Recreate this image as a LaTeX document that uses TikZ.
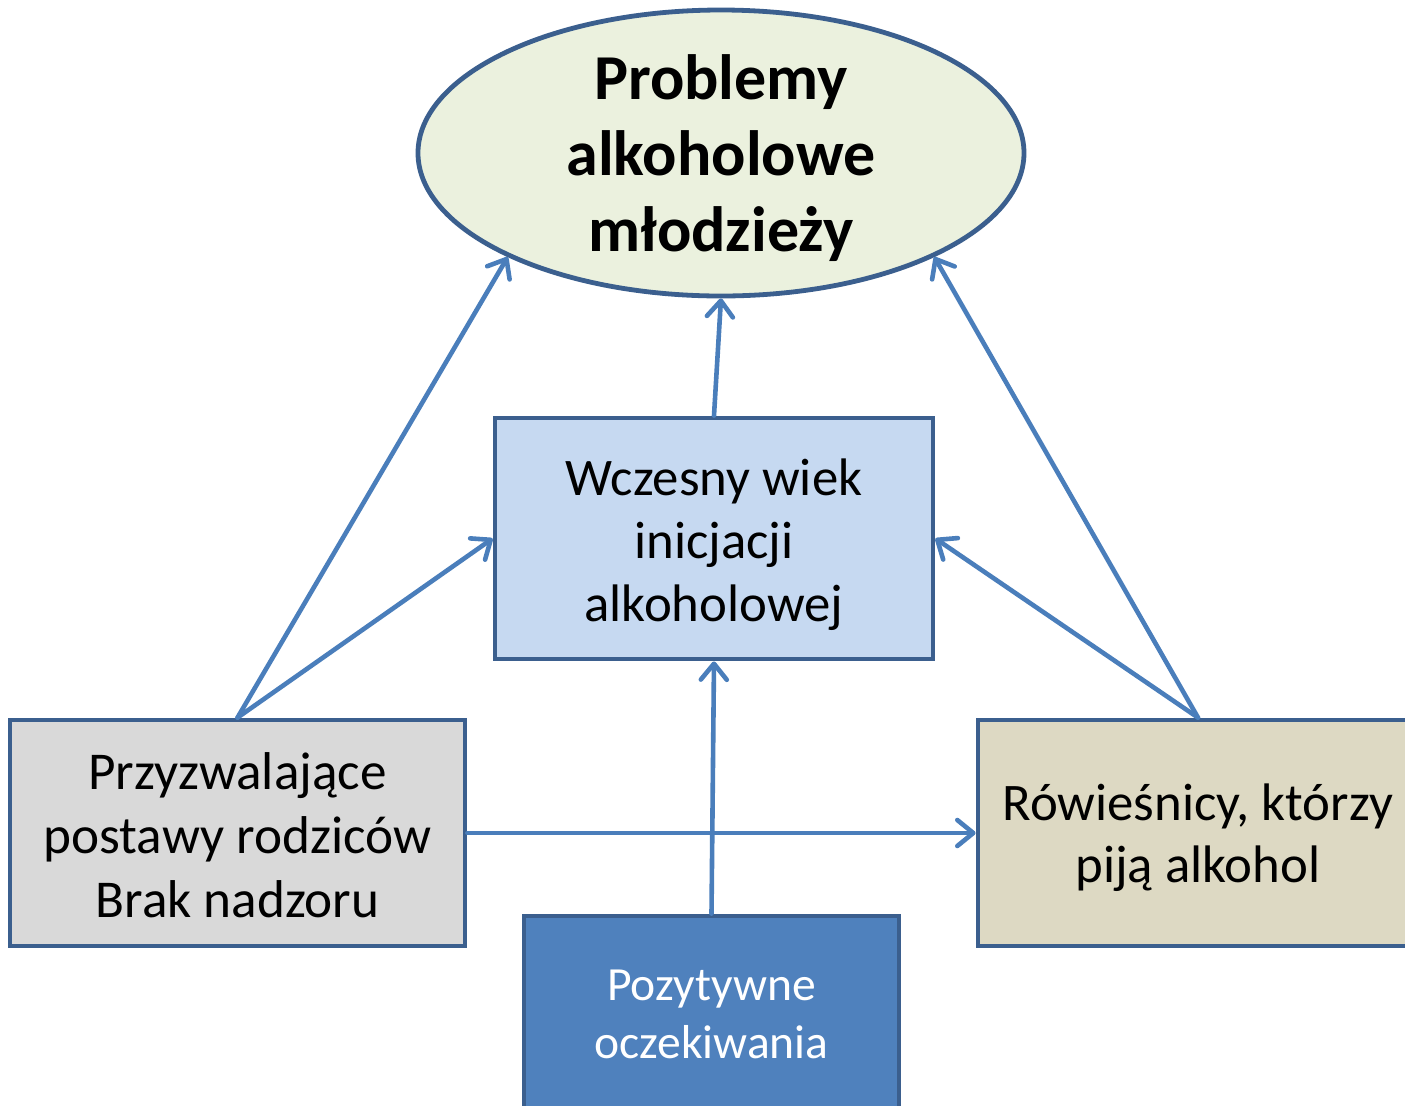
\documentclass[tikz,border=0pt]{standalone}
\usepackage{fontspec}
\setmainfont{Carlito}
\usetikzlibrary{shapes.geometric,arrows.meta}
\definecolor{bordc}{HTML}{3B5F8E}
\definecolor{arrc}{HTML}{4A7EBB}
\definecolor{ellfill}{HTML}{EBF1DE}
\definecolor{midfill}{HTML}{C6D9F1}
\definecolor{leftfill}{HTML}{D9D9D9}
\definecolor{rightfill}{HTML}{DDD9C3}
\definecolor{botfill}{HTML}{4F81BD}
\tikzset{
  box/.style={draw=bordc, line width=2.4pt, rectangle, inner sep=0pt},
  txt/.style={inner sep=0pt, align=center, text=black},
  conn/.style={draw=arrc, line width=2.3pt, line cap=round, -{Straight Barb[length=8pt,width=13pt,round]}},
}
\begin{document}
\begin{tikzpicture}[x=0.5pt,y=-0.5pt]
\useasboundingbox (0,0) rectangle (1405,1105);
\begin{scope}
\clip (0,0) rectangle (1405,1105);
\node[ellipse, draw=bordc, line width=2.4pt, fill=ellfill, minimum width=303pt, minimum height=143pt, inner sep=0pt,
  label={[txt, name=ellt, yshift=-2.5pt, font=\fontsize{32pt}{38pt}\selectfont\bfseries]center:Problemy\\alkoholowe\\młodzieży}] (ell) at (721,153) {};
\node[box, fill=midfill, minimum width=219pt, minimum height=120.5pt,
  label={[txt, name=midt, yshift=-3pt, font=\fontsize{26.4pt}{31.5pt}\selectfont]center:Wczesny wiek\\inicjacji\\alkoholowej}] (mid) at (714,538.5) {};
\node[box, fill=leftfill, minimum width=227.5pt, minimum height=113pt,
  label={[txt, name=leftt, yshift=-1pt, font=\fontsize{26.6pt}{32pt}\selectfont]center:Przyzwalające\\postawy rodziców\\Brak nadzoru}] (left) at (237.5,833) {};
\node[box, fill=rightfill, minimum width=220pt, minimum height=113pt,
  label={[txt, name=rightt, yshift=-2.5pt, font=\fontsize{26.4pt}{31pt}\selectfont]center:Rówieśnicy, którzy\\piją alkohol}] (right) at (1198,833) {};
\node[box, fill=botfill, minimum width=187.5pt, minimum height=98pt,
  label={[txt, name=bott, text=white, font=\fontsize{23.8pt}{29pt}\selectfont]center:Pozytywne\\oczekiwania}] (bot) at (711.5,1014) {};
\end{scope}
\draw[conn] (left.north) -- (ell.206);
\draw[conn] (left.north) -- (mid.west);
\draw[conn] (right.north) -- (ell.334);
\draw[conn] (right.north) -- (mid.east);
\draw[conn] (mid.north) -- (ell.south);
\draw[conn] (bot.north) -- (mid.south);
\draw[conn] (left.east) -- (right.west);
\end{tikzpicture}
\end{document}
